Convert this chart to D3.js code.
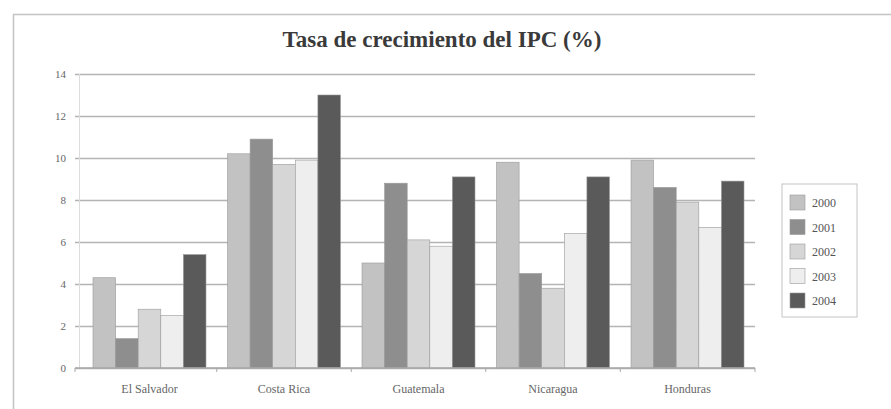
<!DOCTYPE html>
<html>
<head>
<meta charset="utf-8">
<script src="https://cdn.jsdelivr.net/npm/d3@7"></script>
<style>
  body { margin: 0; background: #fff; }
  svg { display: block; }
</style>
</head>
<body>
<svg id="chart"></svg>
<script>
// datos
const paises = ['El Salvador', 'Costa Rica', 'Guatemala', 'Nicaragua', 'Honduras']
const anios = ['2000', '2001', '2002', '2003', '2004']
const v2000 = [4.3, 10.2, 5.0, 9.8, 9.9]
const v2001 = [1.4, 10.9, 8.8, 4.5, 8.6]
const v2002 = [2.8, 9.7, 6.1, 3.8, 7.9]
const v2003 = [2.5, 9.9, 5.8, 6.4, 6.7]
const v2004 = [5.4, 13.0, 9.1, 9.1, 8.9]
const yTicks = [0, 2, 4, 6, 8, 10, 12, 14]

const series = [v2000, v2001, v2002, v2003, v2004]
const colores = ['#c2c2c2', '#8e8e8e', '#d6d6d6', '#eeeeee', '#5a5a5a']

const width = 891
const height = 409
const plot = { left: 75, right: 755, top: 74, bottom: 368 }
const serif = '"Liberation Serif", "DejaVu Serif", serif'

const svg = d3.select('#chart').attr('width', width).attr('height', height)

// marco exterior
svg.append('rect')
    .attr('x', 13.5).attr('y', 14.5)
    .attr('width', width + 10).attr('height', height)
    .attr('fill', 'none')
    .attr('stroke', '#c4c4c4')
    .attr('stroke-width', 1.5)

svg.append('text')
    .text('Tasa de crecimiento del IPC (%)')
    .attr('x', 442).attr('y', 47)
    .attr('text-anchor', 'middle')
    .attr('font-family', serif)
    .attr('font-weight', 'bold')
    .attr('font-size', 23)
    .attr('fill', '#3a3a3a')

// grupos de barras: la banda no ocupa todo el ancho de la rejilla
const x0 = d3.scaleBand()
    .domain(paises)
    .range([93, 744])
    .paddingInner(0.16)
    .paddingOuter(0)

const x1 = d3.scaleBand()
    .domain(anios)
    .range([0, x0.bandwidth()])

const y = d3.scaleLinear()
    .domain([0, 14])
    .range([plot.bottom, plot.top])

// líneas de cuadrícula
const yAxis = d3.axisLeft(y)
    .tickValues(yTicks)
    .tickSize(-(plot.right - plot.left))
    .tickPadding(9)
    .tickFormat(d3.format('d'))

const gy = svg.append('g')
    .attr('transform', `translate(${plot.left},0)`)
    .call(yAxis)
gy.select('.domain').remove()
gy.selectAll('line').attr('stroke', '#b4b4b4').attr('stroke-width', 1.3)
gy.selectAll('text')
    .attr('font-family', serif)
    .attr('font-size', 11)
    .attr('fill', '#666')

// eje vertical claro
svg.append('line')
    .attr('x1', 79.5).attr('x2', 79.5)
    .attr('y1', plot.top).attr('y2', plot.bottom)
    .attr('stroke', '#dcdcdc')

// barras
const grupos = svg.append('g').selectAll('g')
    .data(paises)
    .join('g')
    .attr('transform', d => `translate(${x0(d)},0)`)

grupos.selectAll('rect')
    .data((p, i) => anios.map((a, k) => ({ anio: a, valor: series[k][i], k })))
    .join('rect')
    .attr('x', d => x1(d.anio))
    .attr('y', d => y(d.valor))
    .attr('width', x1.bandwidth())
    .attr('height', d => y(0) - y(d.valor))
    .attr('fill', d => colores[d.k])
    .attr('stroke', '#9a9a9a')
    .attr('stroke-width', 0.6)

// eje de categorías
const xAxis = d3.axisBottom(x0).tickSize(0).tickPadding(16)
const gx = svg.append('g')
    .attr('transform', `translate(0,${plot.bottom})`)
    .call(xAxis)
gx.select('.domain').remove()
gx.append('line')
    .attr('x1', plot.left).attr('x2', plot.right)
    .attr('stroke', '#a8a8a8').attr('stroke-width', 1.3)
gx.selectAll('text')
    .attr('font-family', serif)
    .attr('font-size', 12)
    .attr('fill', '#666')

// marcas entre categorías (a medio camino entre grupos)
const bordes = [plot.left]
    .concat(paises.slice(1).map(p => x0(p) - x0.step() * x0.paddingInner() / 2))
    .concat([plot.right])
gx.selectAll('.sep')
    .data(bordes)
    .join('line')
    .attr('class', 'sep')
    .attr('x1', d => d).attr('x2', d => d)
    .attr('y1', 0).attr('y2', 4)
    .attr('stroke', '#a8a8a8')

// leyenda
const legend = svg.append('g').attr('transform', 'translate(782,184)')
legend.append('rect')
    .attr('width', 75).attr('height', 133)
    .attr('fill', '#fff')
    .attr('stroke', '#c4c4c4')

const item = legend.selectAll('.item')
    .data(anios)
    .join('g')
    .attr('class', 'item')
    .attr('transform', (d, i) => `translate(8,${11 + i * 24.5})`)

item.append('rect')
    .attr('width', 15).attr('height', 15)
    .attr('fill', (d, i) => colores[i])
    .attr('stroke', '#999')
    .attr('stroke-width', 0.6)

item.append('text')
    .text(d => d)
    .attr('x', 22).attr('y', 12)
    .attr('font-family', serif)
    .attr('font-size', 12)
    .attr('fill', '#555')
</script>
</body>
</html>
